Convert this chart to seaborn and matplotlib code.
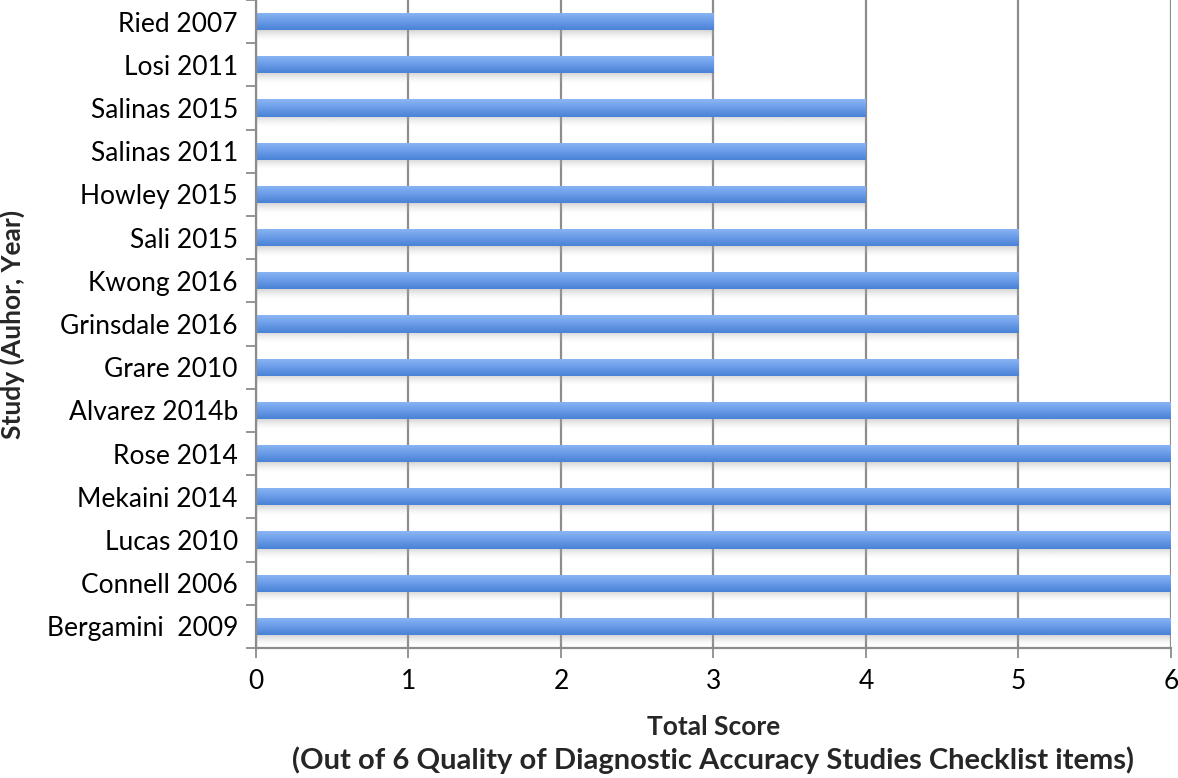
import matplotlib
matplotlib.use("Agg")
import matplotlib.pyplot as plt
import seaborn as sns
import pandas as pd
import numpy as np
from matplotlib.ticker import FixedLocator
from matplotlib.colors import LinearSegmentedColormap

studies = ["Ried 2007", "Losi 2011", "Salinas 2015", "Salinas 2011", "Howley 2015",
           "Sali 2015", "Kwong 2016", "Grinsdale 2016", "Grare 2010", "Alvarez 2014b",
           "Rose 2014", "Mekaini 2014", "Lucas 2010", "Connell 2006", "Bergamini  2009"]
scores = [3, 3, 4, 4, 4, 5, 5, 5, 5, 6, 6, 6, 6, 6, 6]
x_ticks = [0, 1, 2, 3, 4, 5, 6]

df = pd.DataFrame({"Study": studies, "Score": scores})

sns.set_theme(style="white")
plt.rcParams["font.family"] = ["Lato", "DejaVu Sans"]

fig = plt.figure(figsize=(11.78, 7.78), dpi=100)
ax = fig.add_axes([0.2173, 0.167, 0.7767, 0.833])

sns.barplot(data=df, y="Study", x="Score", order=studies, color="#6a9be6",
            width=0.4, linewidth=0, saturation=1, ax=ax, zorder=3)

ax.set_xlim(0, 6)
ax.set_ylim(len(studies) - 0.5, -0.5)

# gradient fill and soft shadow for each bar, derived from the bar patches
bar_cmap = LinearSegmentedColormap.from_list("bar", ["#8cb6f3", "#6a9ce8", "#4a82d6"])
shadow_cmap = LinearSegmentedColormap.from_list(
    "sh", [(0.55, 0.55, 0.55, 0.55), (0.8, 0.8, 0.8, 0.0)])
grad = np.linspace(0, 1, 64).reshape(-1, 1)
for p in list(ax.patches):
    x0, y0 = p.get_x(), p.get_y()
    w, h = p.get_width(), p.get_height()
    ax.imshow(grad, cmap=shadow_cmap, aspect="auto", interpolation="bicubic",
              extent=[x0, x0 + w, y0 + h * 1.55, y0 + h * 0.85], zorder=2)
    im = ax.imshow(grad, cmap=bar_cmap, aspect="auto", interpolation="bicubic",
                   extent=[x0, x0 + w, y0 + h, y0], zorder=4)
    im.set_clip_path(p)
ax.set_xlim(0, 6)
ax.set_ylim(len(studies) - 0.5, -0.5)

ax.xaxis.set_major_locator(FixedLocator(x_ticks))
ax.set_xticklabels([str(t) for t in x_ticks], fontsize=19)
ax.grid(axis="x", color="#8c8c8c", linewidth=1.6, zorder=0)
ax.grid(axis="y", visible=False)

ax.yaxis.set_minor_locator(FixedLocator(np.arange(-0.5, len(studies), 1.0)))
ax.tick_params(axis="y", which="major", length=0, labelsize=19, pad=13, colors="black")
ax.tick_params(axis="y", which="minor", length=7, width=1.3, color="#8c8c8c", left=True)
ax.tick_params(axis="x", which="major", length=7, width=1.3, color="#8c8c8c", bottom=True,
               labelsize=19, pad=8, labelcolor="black")

for s in ["top", "right"]:
    ax.spines[s].set_visible(False)
for s in ["left", "bottom"]:
    ax.spines[s].set_color("#8c8c8c")
    ax.spines[s].set_linewidth(1.6)
    ax.spines[s].set_zorder(5)

ax.set_ylabel("Study (Auhor, Year)", fontsize=19, fontweight="bold")
ax.yaxis.set_label_coords(-0.252, 0.5)
ax.set_xlabel("Total Score", fontsize=19, fontweight="bold", va="top")
ax.xaxis.set_label_coords(0.5, -0.104)
ax.text(0.5, -0.152, "(Out of 6 Quality of Diagnostic Accuracy Studies Checklist items)",
        transform=ax.transAxes, ha="center", va="top", fontsize=21, fontweight="bold")

fig.savefig("out.png", dpi=100)
